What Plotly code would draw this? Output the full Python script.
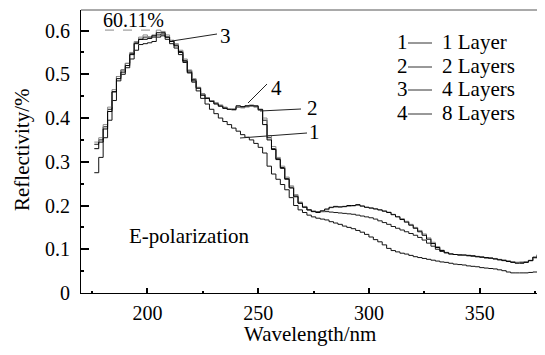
import plotly.graph_objects as go

wavelength = [176, 178, 180, 182, 184, 186, 188, 190, 192, 194,
              196, 198, 200, 202, 204, 206, 208, 210, 212, 214,
              216, 218, 220, 222, 224, 226, 228, 230, 232, 234,
              236, 238, 240, 242, 244, 246, 248, 250, 252, 254,
              256, 258, 260, 262, 264, 266, 268, 270, 272, 274,
              276, 278, 280, 282, 284, 286, 288, 290, 292, 294,
              296, 298, 300, 302, 304, 306, 308, 310, 312, 314,
              316, 318, 320, 322, 324, 326, 328, 330, 332, 334,
              336, 338, 340, 342, 344, 346, 348, 350, 352, 354,
              356, 358, 360, 362, 364, 366, 368, 370, 372, 374,
              376, 378, 380]

layer1 = [0.275, 0.31, 0.355, 0.395, 0.44, 0.485, 0.5, 0.515, 0.535, 0.555,
          0.568, 0.57, 0.572, 0.575, 0.585, 0.588, 0.58, 0.57, 0.56, 0.545,
          0.527, 0.503, 0.482, 0.462, 0.445, 0.432, 0.42, 0.41, 0.4, 0.392,
          0.385, 0.377, 0.37, 0.362, 0.356, 0.35, 0.342, 0.333, 0.32, 0.29,
          0.272, 0.26, 0.248, 0.236, 0.218, 0.2, 0.19, 0.184, 0.178, 0.174,
          0.171, 0.169, 0.167, 0.163, 0.16, 0.157, 0.153, 0.15, 0.147, 0.143,
          0.139, 0.134, 0.128, 0.122, 0.117, 0.11, 0.102, 0.097, 0.094, 0.091,
          0.089, 0.086, 0.083, 0.081, 0.079, 0.077, 0.075, 0.073, 0.071, 0.07,
          0.068, 0.066, 0.065, 0.064, 0.062, 0.061, 0.06, 0.058, 0.057, 0.056,
          0.055, 0.053, 0.051, 0.048, 0.046, 0.046, 0.046, 0.046, 0.047, 0.048,
          0.048, 0.05, 0.05]

layer2 = [0.34, 0.35, 0.38, 0.42, 0.46, 0.495, 0.51, 0.525, 0.548, 0.572,
          0.58, 0.585, 0.585, 0.585, 0.59, 0.592, 0.585, 0.576, 0.567, 0.552,
          0.532, 0.508, 0.488, 0.47, 0.455, 0.446, 0.44, 0.434, 0.428, 0.424,
          0.42, 0.42, 0.425, 0.425, 0.427, 0.428, 0.426, 0.418, 0.395, 0.355,
          0.33, 0.307, 0.287, 0.262, 0.242, 0.222, 0.206, 0.197, 0.19, 0.187,
          0.186, 0.186, 0.186, 0.185, 0.184, 0.183, 0.182, 0.181, 0.18, 0.178,
          0.176, 0.174, 0.172, 0.169, 0.165, 0.161, 0.157, 0.152, 0.148, 0.144,
          0.14, 0.136, 0.132, 0.127, 0.121, 0.114, 0.107, 0.1, 0.095, 0.092,
          0.09, 0.088, 0.087, 0.086, 0.085, 0.084, 0.083, 0.082, 0.08, 0.079,
          0.078, 0.076, 0.075, 0.073, 0.071, 0.07, 0.07, 0.071, 0.074, 0.081,
          0.087, 0.088, 0.088]

layer4 = [0.345, 0.355, 0.385, 0.425, 0.465, 0.495, 0.51, 0.525, 0.55, 0.575,
          0.585, 0.59, 0.585, 0.59, 0.601, 0.598, 0.59, 0.578, 0.57, 0.555,
          0.535, 0.51, 0.49, 0.47, 0.455, 0.447, 0.44, 0.435, 0.43, 0.425,
          0.42, 0.418, 0.425, 0.423, 0.425, 0.43, 0.425, 0.418, 0.40, 0.36,
          0.335, 0.31, 0.29, 0.265, 0.245, 0.225, 0.208, 0.198, 0.19, 0.187,
          0.185, 0.186, 0.19, 0.195, 0.196, 0.196, 0.197, 0.198, 0.199, 0.2,
          0.198, 0.196, 0.195, 0.193, 0.19, 0.188, 0.185, 0.18, 0.175, 0.17,
          0.164, 0.157, 0.15, 0.143, 0.135, 0.126, 0.116, 0.106, 0.098, 0.093,
          0.09, 0.088, 0.087, 0.086, 0.086, 0.085, 0.084, 0.083, 0.081, 0.08,
          0.079, 0.077, 0.075, 0.073, 0.071, 0.07, 0.071, 0.072, 0.075, 0.08,
          0.087, 0.088, 0.088]

layer8 = [0.33, 0.345, 0.375, 0.415, 0.46, 0.49, 0.505, 0.52, 0.545, 0.57,
          0.58, 0.58, 0.582, 0.588, 0.595, 0.595, 0.585, 0.575, 0.565, 0.55,
          0.53, 0.505, 0.485, 0.468, 0.452, 0.445, 0.438, 0.432, 0.427, 0.422,
          0.42, 0.42, 0.428, 0.426, 0.428, 0.428, 0.428, 0.42, 0.385, 0.35,
          0.328, 0.305, 0.285, 0.26, 0.24, 0.22, 0.205, 0.196, 0.19, 0.186,
          0.184, 0.188, 0.192, 0.196, 0.198, 0.197, 0.198, 0.2, 0.2, 0.202,
          0.199, 0.196, 0.194, 0.192, 0.19, 0.187, 0.184, 0.179, 0.174, 0.168,
          0.162, 0.155, 0.148, 0.14, 0.132, 0.123, 0.113, 0.104, 0.097, 0.092,
          0.089, 0.088, 0.087, 0.087, 0.086, 0.085, 0.083, 0.082, 0.081, 0.08,
          0.078, 0.076, 0.074, 0.072, 0.07, 0.068, 0.068, 0.07, 0.074, 0.082,
          0.088, 0.089, 0.089]

series_names = ["1 Layer", "2 Layers", "4 Layers", "8 Layers"]
series_ids = ["1", "2", "3", "4"]
x_ticks = [200, 250, 300, 350]
y_ticks = [0, 0.1, 0.2, 0.3, 0.4, 0.5, 0.6]
y_tick_labels = ["0", "0.1", "0.2", "0.3", "0.4", "0.5", "0.6"]
peak_label = "60.11%"
peak_value = 0.6011

FONT = "Liberation Serif, Times New Roman, Times, serif"
# The page body has an 8px margin; the figure is sized so the plot area
# lands at page pixels x 81..545, y 10..293 as in the reference.
OFF = 8
PX_L, PX_R, PX_T, PX_B = 81, 545, 10, 293
W, H = 545 - OFF, 355 - OFF
L, T = PX_L - OFF, PX_T - OFF
R, B = 0, H - (PX_B - OFF)
X_RANGE = [170, 379.5]
Y_RANGE = [0, 0.647]

series = [layer1, layer2, layer4, layer8]
colors = ["#111111", "#1a1a1a", "#8a8a8a", "#000000"]

fig = go.Figure()
for vals, name, col in zip(series, series_names, colors):
    fig.add_trace(go.Scatter(x=wavelength, y=vals, name=name, mode="lines",
                             line=dict(shape="hv", width=1, color=col),
                             showlegend=False, hoverinfo="skip"))


def px2x(px):
    return X_RANGE[0] + (px - PX_L) / (PX_R - PX_L) * (X_RANGE[1] - X_RANGE[0])


def py2y(py):
    return Y_RANGE[0] + (PX_B - py) / (PX_B - PX_T) * (Y_RANGE[1] - Y_RANGE[0])


def pxp(px):
    return (px - PX_L) / (PX_R - PX_L)


def pyp(py):
    return (PX_B - py) / (PX_B - PX_T)


shapes = []
annotations = []

# top frame line
shapes.append(dict(type="line", xref="paper", yref="paper", x0=0, x1=1, y0=1, y1=1,
                   line=dict(color="#555555", width=1)))

# peak dashed marker
shapes.append(dict(type="line", xref="x", yref="y", x0=px2x(105), x1=px2x(157),
                   y0=peak_value, y1=peak_value,
                   line=dict(color="#888888", width=1, dash="dash")))
annotations.append(dict(xref="x", yref="y", x=px2x(133), y=py2y(20), text=peak_label,
                        showarrow=False, font=dict(family=FONT, size=20, color="black")))

# curve number leader lines and labels: (label, line start px, line end px, text px)
leaders = [
    ("3", (217, 34), (172, 41), (225, 36)),
    ("4", (267, 84), (248, 103), (276, 88)),
    ("2", (301, 109), (260, 111), (312, 108)),
    ("1", (307, 133), (240, 138), (314, 132)),
]
for lab, p0, p1, pt in leaders:
    shapes.append(dict(type="line", xref="x", yref="y",
                       x0=px2x(p0[0]), y0=py2y(p0[1]), x1=px2x(p1[0]), y1=py2y(p1[1]),
                       line=dict(color="#222222", width=1)))
    annotations.append(dict(xref="x", yref="y", x=px2x(pt[0]), y=py2y(pt[1]), text=lab,
                            showarrow=False, font=dict(family=FONT, size=21, color="black")))

# legend block
rows_y = [42, 66, 89, 113]
for sid, name, ry in zip(series_ids, series_names, rows_y):
    annotations.append(dict(xref="paper", yref="paper", x=pxp(402), y=pyp(ry), text=sid,
                            showarrow=False, xanchor="center", yanchor="middle",
                            font=dict(family=FONT, size=21, color="black")))
    shapes.append(dict(type="line", xref="paper", yref="paper",
                       x0=pxp(408), x1=pxp(432), y0=pyp(ry + 1), y1=pyp(ry + 1),
                       line=dict(color="#333333", width=1)))
    annotations.append(dict(xref="paper", yref="paper", x=pxp(440), y=pyp(ry), text=name,
                            showarrow=False, xanchor="left", yanchor="middle",
                            font=dict(family=FONT, size=21, color="black")))

annotations.append(dict(xref="paper", yref="paper", x=pxp(189), y=pyp(236), text="E-polarization",
                        showarrow=False, xanchor="center", yanchor="middle",
                        font=dict(family=FONT, size=21, color="black")))

# axis titles
annotations.append(dict(xref="paper", yref="paper", x=pxp(310), y=pyp(334), text="Wavelength/nm",
                        showarrow=False, xanchor="center", yanchor="middle",
                        font=dict(family=FONT, size=21, color="black")))
annotations.append(dict(xref="paper", yref="paper", x=pxp(22), y=pyp(150), text="Reflectivity/%",
                        showarrow=False, xanchor="center", yanchor="middle", textangle=-90,
                        font=dict(family=FONT, size=21, color="black")))

fig.update_layout(
    width=W, height=H,
    margin=dict(l=L, r=R, t=T, b=B, pad=0, autoexpand=False),
    paper_bgcolor="white", plot_bgcolor="white",
    shapes=shapes, annotations=annotations,
    xaxis=dict(range=X_RANGE, tickvals=x_ticks, ticks="inside", ticklen=5, tickwidth=2,
               tickcolor="black", showline=True, linecolor="black", linewidth=1,
               showgrid=False, zeroline=False, ticklabelstandoff=2, automargin=False,
               tickfont=dict(family=FONT, size=20, color="black"),
               minor=dict(dtick=25, tick0=175, ticks="inside", ticklen=2, tickwidth=2,
                          tickcolor="black", showgrid=False)),
    yaxis=dict(range=Y_RANGE, tickvals=y_ticks, ticktext=y_tick_labels, ticks="inside",
               ticklen=8, tickwidth=2, tickcolor="black", showline=True, linecolor="black",
               linewidth=1, showgrid=False, zeroline=False, ticklabelstandoff=6,
               automargin=False,
               tickfont=dict(family=FONT, size=20, color="black"),
               minor=dict(dtick=0.05, tick0=0, ticks="inside", ticklen=3, tickwidth=2,
                          tickcolor="black", showgrid=False)),
)

fig.write_html("out.html")
